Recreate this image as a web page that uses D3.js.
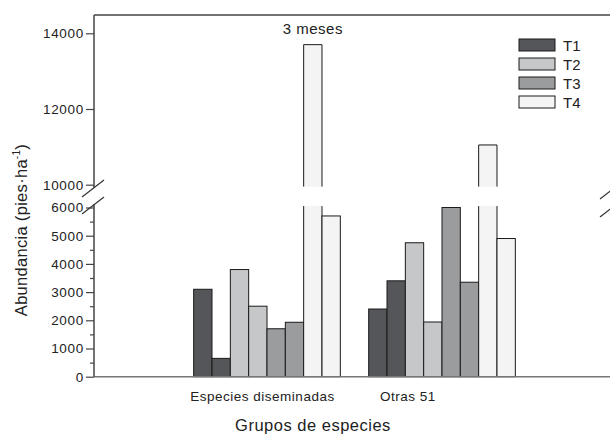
<!DOCTYPE html>
<html>
<head>
<meta charset="utf-8">
<script src="https://cdn.jsdelivr.net/npm/d3@7"></script>
<style>
  body { margin: 0; background: #fff; }
  text { font-family: "Liberation Sans", Arial, sans-serif; fill: #222; }
</style>
</head>
<body>
<div id="chart"></div>
<script>
// data
var groups = ["Especies diseminadas", "Otras 51"];
var series = ["T1", "T2", "T3", "T4"];
var barSeries = ["T1", "T1", "T2", "T2", "T3", "T3", "T4", "T4"];
var especiesDiseminadas = [3100, 650, 3800, 2500, 1700, 1930, 13700, 5700];
var otras51 = [2400, 3400, 4750, 1940, 6000, 3350, 11050, 4900];
var lowTicks = [0, 1000, 2000, 3000, 4000, 5000, 6000];
var lowMinorTicks = [500, 1500, 2500, 3500, 4500, 5500];
var highTicks = [10000, 12000, 14000];
var note = "3 meses";

var colors = { T1: "#55565a", T2: "#c6c7c9", T3: "#9b9c9e", T4: "#f3f4f3" };

var svgWidth = 610;
var svgHeight = 435;
var axisX = 94;

var svg = d3.select("#chart")
  .append("svg")
  .attr("width", svgWidth)
  .attr("height", svgHeight);

// broken y axis: two linear pieces
var yLow = d3.scaleLinear().domain([0, 6000]).range([376.7, 207.5]);
var yHigh = d3.scaleLinear().domain([10000, 14000]).range([184.7, 33.3]);
var lowCut = 6050, highCut = 9950;

// x scales
var x0 = d3.scaleBand()
  .domain(groups)
  .range([179.5, 529.5])
  .paddingInner(0.162)
  .paddingOuter(0.081);
var x1 = d3.scaleBand()
  .domain(d3.range(barSeries.length))
  .range([0, x0.bandwidth()]);

var table = [especiesDiseminadas, otras51];

// frame top + baseline
svg.append("line")
  .attr("x1", axisX).attr("x2", svgWidth)
  .attr("y1", 15).attr("y2", 15)
  .attr("stroke", "#444").attr("stroke-width", 1.5);

// bars
table.forEach(function(vals, gi) {
  var g = svg.append("g")
    .attr("transform", "translate(" + x0(groups[gi]) + ",0)");
  vals.forEach(function(v, i) {
    var xl = x1(i), xr = x1(i) + x1.bandwidth();
    var fill = colors[barSeries[i]];
    if (v <= lowCut) {
      g.append("rect")
        .attr("x", xl).attr("width", x1.bandwidth())
        .attr("y", yLow(v)).attr("height", yLow(0) - yLow(v))
        .attr("fill", fill)
        .attr("stroke", "#1a1a1a").attr("stroke-width", 1);
    } else {
      // lower piece, open at top
      g.append("rect")
        .attr("x", xl).attr("width", x1.bandwidth())
        .attr("y", yLow(lowCut)).attr("height", yLow(0) - yLow(lowCut))
        .attr("fill", fill);
      g.append("path")
        .attr("d", "M" + xl + "," + yLow(lowCut) + "V" + yLow(0) + "H" + xr + "V" + yLow(lowCut))
        .attr("fill", "none").attr("stroke", "#1a1a1a").attr("stroke-width", 1);
      // upper piece, open at bottom
      g.append("rect")
        .attr("x", xl).attr("width", x1.bandwidth())
        .attr("y", yHigh(v)).attr("height", yHigh(highCut) - yHigh(v))
        .attr("fill", fill);
      g.append("path")
        .attr("d", "M" + xl + "," + yHigh(highCut) + "V" + yHigh(v) + "H" + xr + "V" + yHigh(highCut))
        .attr("fill", "none").attr("stroke", "#1a1a1a").attr("stroke-width", 1);
    }
  });
});

// baseline
svg.append("line")
  .attr("x1", axisX).attr("x2", svgWidth)
  .attr("y1", yLow(0)).attr("y2", yLow(0))
  .attr("stroke", "#777").attr("stroke-width", 1.5);

// y axes
var lowAxis = d3.axisLeft(yLow).tickValues(lowTicks).tickSize(8).tickPadding(2).tickFormat(d3.format("d"));
var lowMinor = d3.axisLeft(yLow).tickValues(lowMinorTicks).tickSize(4).tickFormat("");
var highAxis = d3.axisLeft(yHigh).tickValues(highTicks).tickSize(8).tickPadding(2).tickFormat(d3.format("d"));

function styleAxis(sel) {
  sel.select(".domain").remove();
  sel.selectAll("line").attr("stroke", "#444").attr("stroke-width", 1.2);
  sel.selectAll("text")
    .attr("font-size", 13.5)
    .attr("letter-spacing", "0.7px")
    .attr("fill", "#222")
    .style("font-family", "'Liberation Sans', Arial, sans-serif");
}

svg.append("g").attr("transform", "translate(" + axisX + ",0)").call(lowAxis).call(styleAxis);
svg.append("g").attr("transform", "translate(" + axisX + ",0)").call(lowMinor).call(styleAxis);
svg.append("g").attr("transform", "translate(" + axisX + ",0)").call(highAxis).call(styleAxis);

// axis spines (broken)
svg.append("line")
  .attr("x1", axisX).attr("x2", axisX)
  .attr("y1", 15).attr("y2", 188)
  .attr("stroke", "#444").attr("stroke-width", 1.5);
svg.append("line")
  .attr("x1", axisX).attr("x2", axisX)
  .attr("y1", 204).attr("y2", yLow(0))
  .attr("stroke", "#444").attr("stroke-width", 1.5);

// break marks
function breakMark(cx, cy) {
  svg.append("line")
    .attr("x1", cx - 12).attr("y1", cy + 9)
    .attr("x2", cx + 10).attr("y2", cy - 8)
    .attr("stroke", "#333").attr("stroke-width", 1.2);
}
breakMark(axisX, 188);
breakMark(axisX, 205);
breakMark(612, 190);
breakMark(612, 208);

// group labels
var labelShift = [-4.5, -34];
svg.selectAll(".grp")
  .data(groups)
  .enter()
  .append("text")
  .attr("class", "grp")
  .attr("x", function(d, i) { return x0(d) + x0.bandwidth() / 2 + labelShift[i]; })
  .attr("y", 401)
  .attr("text-anchor", "middle")
  .attr("font-size", 13.5)
  .attr("letter-spacing", "0.5px")
  .text(function(d) { return d; });

// axis titles
svg.append("text")
  .attr("x", 313).attr("y", 431)
  .attr("text-anchor", "middle")
  .attr("font-size", 16.5)
  .attr("letter-spacing", "0.5px")
  .text("Grupos de especies");

var yTitle = svg.append("text")
  .attr("transform", "translate(27,230) rotate(-90)")
  .attr("text-anchor", "middle")
  .attr("font-size", 16.5)
  .attr("letter-spacing", "0.3px");
yTitle.append("tspan").text("Abundancia (pies\u00b7ha");
yTitle.append("tspan").attr("font-size", 10).attr("dy", -7).text("-1");
yTitle.append("tspan").attr("dy", 7).text(")");

// note above tall bar
svg.append("text")
  .attr("x", x0(groups[0]) + x1(6) + x1.bandwidth() / 2)
  .attr("y", 34)
  .attr("text-anchor", "middle")
  .attr("font-size", 15)
  .attr("letter-spacing", "0.5px")
  .text(note);

// legend
var legend = svg.append("g").attr("transform", "translate(519,39)");
var item = legend.selectAll(".item")
  .data(series)
  .enter()
  .append("g")
  .attr("class", "item")
  .attr("transform", function(d, i) { return "translate(0," + (i * 19) + ")"; });
item.append("rect")
  .attr("width", 36).attr("height", 12)
  .attr("fill", function(d) { return colors[d]; })
  .attr("stroke", "#1a1a1a").attr("stroke-width", 1);
item.append("text")
  .attr("x", 44).attr("y", 11.5)
  .attr("font-size", 15)
  .text(function(d) { return d; });
</script>
</body>
</html>
